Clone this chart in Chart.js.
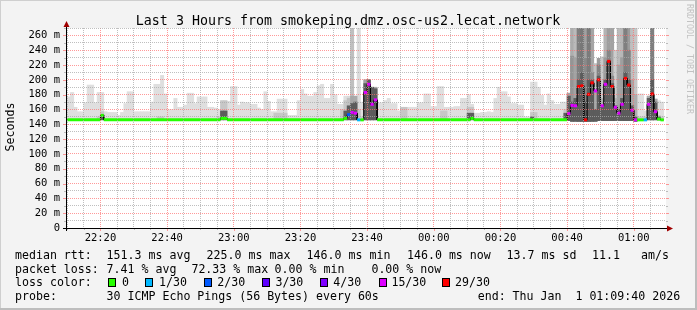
<!DOCTYPE html>
<html>
<head>
<meta charset="utf-8">
<title>smokeping - last 3 hours</title>
<script src="https://cdn.jsdelivr.net/npm/chart.js@4.4.1/dist/chart.umd.min.js"></script>
<style>
  html, body { margin: 0; padding: 0; background: #f3f3f3; }
  canvas { display: block; }
</style>
</head>
<body>
<canvas id="smokeChart" width="697" height="310"></canvas>
<script>
// One entry per minute, 22:10 .. 01:08 (step 60s). Values in ms.
const _ = null;

const median = [
  146,146,146,146,146,146,146,146,146,146,
  152,146,146,146,146,146,146,146,146,146,
  146,146,146,146,146,146,146,146,146,146,
  146,146,146,146,146,146,146,146,146,146,
  146,146,146,146,146,146,148,148,146,146,
  146,146,146,146,146,146,146,146,146,146,
  146,146,146,146,146,146,146,146,146,146,
  146,146,146,146,146,146,146,146,146,146,
  146,146,146,148,153,156,155,146,146,183,
  194,167,173,146,146,146,146,146,146,146,
  146,146,146,146,146,146,146,146,146,146,
  146,146,146,146,146,146,146,146,146,146,
  146,148,146,146,146,146,146,146,146,146,
  146,146,146,146,146,146,146,146,146,146,
  146,146,146,146,146,146,146,146,146,146,
  154.5,165.5,165,191,192,146,180.5,196,185,200,
  165,194,225,191,163,155,167,202,193,159,
  146,146,146,146,167,181,157,147,146
];

// lost pings out of 30
const loss = [
  0,0,0,0,0,0,0,0,0,0,  0,0,0,0,0,0,0,0,0,0,
  0,0,0,0,0,0,0,0,0,0,  0,0,0,0,0,0,0,0,0,0,
  0,0,0,0,0,0,0,0,0,0,  0,0,0,0,0,0,0,0,0,0,
  0,0,0,0,0,0,0,0,0,0,  0,0,0,0,0,0,0,0,0,0,
  0,0,0,0,2,9,8,1,0,10, 12,9,8,0,0,0,0,0,0,0,
  0,0,0,0,0,0,0,0,0,0,  0,0,0,0,0,0,0,0,0,0,
  0,0,0,0,0,0,0,0,0,0,  0,0,0,0,0,0,0,0,0,0,
  0,0,0,0,0,0,0,0,0,0,
  9,14,10,20,22,17,21,16,8,19,
  6,12,18,17,5,10,11,20,19,9,
  7,0,0,1,8,20,9,0,0
];

// smoke: lowest ping, highest ping, upper spread, inner core
const smokeLow = [
  146,146,146,146,146,146,146,146,146,146,  146,146,146,146,146,146,146,146,146,146,
  146,146,146,146,146,146,146,146,146,146,  146,146,146,146,146,146,146,146,146,146,
  146,146,146,146,146,146,146,146,146,146,  146,146,146,146,146,146,146,146,146,146,
  146,146,146,146,146,146,146,146,146,146,  146,146,146,146,146,146,146,146,146,146,
  146,146,146,146,146,146,146,146,146,146,  146,146,146,146,146,146,146,146,146,146,
  146,146,146,146,146,146,146,146,146,146,  146,146,146,146,146,146,146,146,146,146,
  146,146,146,146,146,146,146,146,146,146,  146,146,146,146,146,146,146,146,146,146,
  146,146,146,146,146,146,146,146,146,146,
  145,144,144,144,144,144,144,144,144,145,
  145,145,145,145,145,145,145,145,145,145,
  144,146,146,146,146,146,146,146,146
];

const smokeTop = [
  177,183,163,157,157,169,193,193,169,183,
  183,157,156,156,156,152,156,168,184,184,
  157,157,157,157,157,170,194,194,206,181,
  160,160,175,163,163,166,182,182,168,177,
  177,177,163,163,162,160,160,171,171,191,
  191,166,170,169,169,167,167,162,160,184,
  171,157,157,174,174,174,152,152,152,172,
  187,181,178,178,183,192,194,175,175,194,
  180,167,167,178,178,280,178,280,170,200,
  200,190,190,169,169,172,175,168,168,158,
  158,158,163,163,163,169,169,181,181,164,
  164,191,191,163,163,163,164,164,175,175,
  180,167,155,155,156,156,157,156,175,190,
  184,184,177,168,168,166,166,150,150,197,
  197,190,179,166,181,172,167,167,170,170,
  182,280,280,280,280,280,280,280,222,229,
  231,280,280,280,240,280,280,280,280,280,
  280,181,181,158,178,280,174,172,170
];

const smokeMid = [
  _,_,_,_,_,_,_,_,_,150,        157,_,_,_,_,_,_,_,_,_,
  _,_,_,_,_,_,_,150,150,_,      _,_,_,_,_,_,_,_,_,_,
  _,_,_,_,_,150,172,172,_,_,    _,_,_,_,_,_,_,_,_,_,
  _,_,155,155,155,155,_,_,_,_,  _,_,_,_,_,_,_,_,_,_,
  _,_,160,172,175,178,178,160,150,200,
  200,190,190,_,_,_,_,_,_,_,
  163,163,_,_,_,_,_,_,_,_,      _,_,158,158,_,_,_,_,_,_,
  163,163,_,_,_,_,_,_,_,_,      _,_,_,_,_,_,_,_,_,156,
  156,_,_,_,_,_,_,_,_,160,
  182,232,230,280,280,229,280,210,185,220,
  175,230,240,205,175,220,230,280,240,200,
  180,150,150,150,178,280,174,152,150
];

const smokeCore = [
  _,_,_,_,_,_,_,_,_,_,          153,_,_,_,_,_,_,_,_,_,
  _,_,_,_,_,_,_,_,_,_,          _,_,_,_,_,_,_,_,_,_,
  _,_,_,_,_,_,158,158,_,_,      _,_,_,_,_,_,_,_,_,_,
  _,_,_,_,_,_,_,_,_,_,          _,_,_,_,_,_,_,_,_,_,
  _,_,_,158,165,168,170,_,_,195,
  200,190,188,_,_,_,_,_,_,_,
  _,_,_,_,_,_,_,_,_,_,          _,_,_,_,_,_,_,_,_,_,
  155,155,_,_,_,_,_,_,_,_,      _,_,_,_,_,_,_,_,_,150,
  _,_,_,_,_,_,_,_,_,155,
  178,170,175,200,210,170,200,200,160,205,
  165,200,226,195,165,160,175,210,200,165,
  150,_,_,_,175,200,170,150,_
];

// loss colour classes (upper bound of lost pings per class)
const lossLevels = [0, 1, 2, 3, 4, 15, 29];
const lossLabels = ['0', '1/30', '2/30', '3/30', '4/30', '15/30', '29/30'];
const lossColors = ['#26ff00', '#00b8ff', '#0059ff', '#5e00ff', '#7e00ff', '#dd00ff', '#ff0000'];

// x tick labels (every 20 minutes, first at 22:20)
const timeLabels = ['22:20', '22:40', '23:00', '23:20', '23:40', '00:00', '00:20', '00:40', '01:00'];

const rttStats = ['151.3 ms avg', '225.0 ms max', '146.0 ms min', '146.0 ms now', '13.7 ms sd', '11.1', 'am/s'];
const lossStats = ['7.41 % avg', '72.33 % max', '0.00 % min', '0.00 % now'];

const TITLE = 'Last 3 Hours from smokeping.dmz.osc-us2.lecat.network';
const PROBE = '30 ICMP Echo Pings (56 Bytes) every 60s';
const END = 'end: Thu Jan  1 01:09:40 2026';

// ---------------------------------------------------------------
// graph starts 22:09:40, columns are aligned on whole minutes
const SPAN = 10800;
const FIRST_MIN = 20;
const MONO = '"DejaVu Sans Mono", monospace';
const MGRID = 'rgba(255,110,110,0.7)';
const GRID = 'rgba(170,170,170,0.75)';

function colStart(j) { return FIRST_MIN + 60 * j; }

function lossColor(n) {
    for (let i = 0; i < lossLevels.length; i++) {
        if (n <= lossLevels[i]) return lossColors[i];
    }
    return lossColors[lossColors.length - 1];
}

// more lost pings -> darker smoke
function smokeShade(n, step) {
    const g = Math.max(60, Math.round(223 - 3.6 * n) - step);
    return `rgb(${g},${g},${g})`;
}

function smokeBars(top) {
    const out = [];
    for (let j = 0; j < median.length; j++) {
        if (top[j] == null) continue;
        out.push({ x: colStart(j) + 30, y: [smokeLow[j], top[j]], j: j });
    }
    return out;
}

const medianPts = [];
median.forEach((m, j) => {
    medianPts.push({ x: colStart(j), y: m }, { x: colStart(j) + 60, y: m });
});

function xLabel(v) {
    const k = (v - 620) / 1200;
    return Number.isInteger(k) ? timeLabels[k] : '';
}

const barCommon = {
    type: 'bar',
    grouped: false,
    barPercentage: 1,
    categoryPercentage: 1,
    borderWidth: 0
};

// background, frame, axes and all the rrdtool style texts
const rrdFrame = {
    id: 'rrdFrame',
    beforeDraw(chart) {
        const { ctx, chartArea: a } = chart;
        ctx.save();
        ctx.fillStyle = '#f3f3f3';
        ctx.fillRect(0, 0, chart.width, chart.height);
        ctx.fillStyle = '#cfcfcf';
        ctx.fillRect(0, 0, chart.width, 1);
        ctx.fillRect(0, 0, 1, chart.height);
        ctx.fillStyle = '#bdbdbd';
        ctx.fillRect(0, chart.height - 2, chart.width, 2);
        ctx.fillRect(chart.width - 2, 0, 2, chart.height);
        ctx.fillStyle = '#ffffff';
        ctx.fillRect(a.left, a.top, a.right - a.left, a.bottom - a.top);
        ctx.restore();
    },
    afterDraw(chart) {
        const { ctx, chartArea: a } = chart;
        const xs = chart.scales.x, ys = chart.scales.y;
        ctx.save();

        // small tick marks outside the plot, like rrdtool does
        ctx.lineWidth = 1;
        xs.ticks.forEach(t => {
            const px = Math.round(xs.getPixelForValue(t.value)) + 0.5;
            ctx.strokeStyle = xLabel(t.value) ? MGRID : GRID;
            ctx.beginPath();
            ctx.moveTo(px, a.bottom);
            ctx.lineTo(px, a.bottom + (xLabel(t.value) ? 3 : 2));
            ctx.stroke();
        });
        ys.ticks.forEach(t => {
            if (t.value === 0) return;
            const py = Math.round(ys.getPixelForValue(t.value)) + 0.5;
            const major = t.value % 20 === 0;
            ctx.strokeStyle = major ? MGRID : GRID;
            ctx.beginPath();
            ctx.moveTo(a.left - (major ? 3 : 2), py);
            ctx.lineTo(a.left, py);
            ctx.moveTo(a.right, py);
            ctx.lineTo(a.right + (major ? 3 : 2), py);
            ctx.stroke();
        });

        // axes
        ctx.strokeStyle = '#000';
        ctx.beginPath();
        ctx.moveTo(a.left + 0.5, a.bottom + 3);
        ctx.lineTo(a.left + 0.5, a.top - 5);
        ctx.moveTo(a.left - 3, a.bottom + 0.5);
        ctx.lineTo(a.right + 4, a.bottom + 0.5);
        ctx.stroke();

        ctx.fillStyle = '#a00000';
        ctx.beginPath();
        ctx.moveTo(a.left - 2.5, a.top - 1);
        ctx.lineTo(a.left + 0.5, a.top - 7);
        ctx.lineTo(a.left + 3.5, a.top - 1);
        ctx.closePath();
        ctx.fill();
        ctx.beginPath();
        ctx.moveTo(a.right + 1, a.bottom - 2.5);
        ctx.lineTo(a.right + 7, a.bottom + 0.5);
        ctx.lineTo(a.right + 1, a.bottom + 3.5);
        ctx.closePath();
        ctx.fill();

        ctx.fillStyle = '#000';
        ctx.textBaseline = 'alphabetic';

        // title
        ctx.font = `13.3px ${MONO}`;
        ctx.textAlign = 'center';
        ctx.fillText(TITLE, 348, 25);

        // y axis title
        ctx.font = `11.6px ${MONO}`;
        ctx.save();
        ctx.translate(11, 127);
        ctx.rotate(-Math.PI / 2);
        ctx.textBaseline = 'middle';
        ctx.fillText('Seconds', 0, 0);
        ctx.restore();

        // legend
        ctx.textAlign = 'left';
        const rows = [259, 272.6, 286.2, 299.8];
        ctx.fillText('median rtt:', 15, rows[0]);
        const rttX = [106.6, 206.6, 306.6, 407, 506.6, 592, 641];
        rttStats.forEach((s, i) => ctx.fillText(s, rttX[i], rows[0]));

        ctx.fillText('packet loss:', 15, rows[1]);
        const lossX = [106.6, 191.4, 274.6, 371.4];
        lossStats.forEach((s, i) => ctx.fillText(s, lossX[i], rows[1]));

        ctx.fillText('loss color:', 15, rows[2]);
        const boxX = [108.4, 145.3, 203.6, 261.8, 320, 378.7, 442.2];
        const labX = [122, 159, 217.2, 275.4, 333.2, 391.4, 455];
        lossLabels.forEach((s, i) => {
            const bx = Math.round(boxX[i]);
            ctx.fillStyle = lossColors[i];
            ctx.fillRect(bx, 278, 8, 9);
            ctx.strokeStyle = '#000';
            ctx.strokeRect(bx + 0.5, 278.5, 7, 8);
            ctx.fillStyle = '#000';
            ctx.fillText(s, labX[i], rows[2]);
        });

        ctx.fillText('probe:', 15, rows[3]);
        ctx.fillText(PROBE, 106.6, rows[3]);
        ctx.fillText(END, 477.7, rows[3]);

        // watermark
        ctx.fillStyle = '#c2c2c2';
        ctx.font = `8.3px ${MONO}`;
        ctx.translate(689, 4);
        ctx.rotate(Math.PI / 2);
        ctx.textBaseline = 'middle';
        ctx.fillText('RRDTOOL / TOBI OETIKER', 0, 0);
        ctx.restore();
    }
};

new Chart(document.getElementById('smokeChart'), {
    type: 'line',
    data: {
        datasets: [
            {
                label: 'median',
                data: medianPts,
                order: 0,
                borderWidth: 3,
                borderColor: lossColors[0],
                borderCapStyle: 'butt',
                pointRadius: 0,
                tension: 0,
                segment: {
                    borderColor: ctx => {
                        const i = ctx.p0DataIndex;
                        const j = Math.floor(i / 2);
                        if (i % 2 === 0) return lossColor(loss[j]);
                        if (median[j] === median[j + 1] && lossColor(loss[j]) === lossColor(loss[j + 1])) {
                            return lossColor(loss[j]);
                        }
                        return 'rgba(0,0,0,0)';
                    }
                }
            },
            {
                label: 'median line',
                data: medianPts,
                order: 1,
                borderWidth: 1,
                borderColor: '#000',
                pointRadius: 0,
                tension: 0
            },
            Object.assign({}, barCommon, {
                label: 'core',
                data: smokeBars(smokeCore),
                order: 2,
                backgroundColor: '#5c5c5c'
            }),
            Object.assign({}, barCommon, {
                label: 'spread',
                data: smokeBars(smokeMid),
                order: 3,
                backgroundColor: ctx => smokeShade(ctx.raw ? loss[ctx.raw.j] : 0, 24)
            }),
            Object.assign({}, barCommon, {
                label: 'smoke',
                data: smokeBars(smokeTop),
                order: 4,
                backgroundColor: ctx => smokeShade(ctx.raw ? loss[ctx.raw.j] : 0, 0)
            })
        ]
    },
    options: {
        responsive: false,
        animation: false,
        devicePixelRatio: 1,
        layout: { padding: { top: 28, right: 31, bottom: 0, left: 0 } },
        plugins: {
            legend: { display: false },
            tooltip: { enabled: false },
            title: { display: false }
        },
        scales: {
            x: {
                type: 'linear',
                min: 0,
                max: SPAN,
                offset: false,
                afterFit: s => { s.height = 82; },
                afterBuildTicks: s => {
                    const t = [];
                    for (let v = FIRST_MIN; v < SPAN; v += 300) t.push({ value: v });
                    s.ticks = t;
                },
                ticks: {
                    autoSkip: false,
                    maxRotation: 0,
                    padding: 4,
                    color: '#000',
                    font: { family: MONO, size: 10.5 },
                    callback: v => xLabel(v)
                },
                grid: {
                    z: 1,
                    offset: false,
                    drawTicks: false,
                    lineWidth: 1,
                    color: ctx => xLabel(ctx.tick.value) ? MGRID : GRID
                },
                border: { display: false, dash: [1, 1] }
            },
            y: {
                min: 0,
                max: 270,
                afterFit: s => { s.width = 66; },
                afterBuildTicks: s => {
                    const t = [];
                    for (let v = 0; v <= 270; v += 10) t.push({ value: v });
                    s.ticks = t;
                },
                ticks: {
                    autoSkip: false,
                    padding: 6,
                    color: '#000',
                    font: { family: MONO, size: 10.5 },
                    callback: v => (v % 20 === 0 ? (v === 0 ? '0' : v + ' m') : '')
                },
                grid: {
                    z: 1,
                    drawTicks: false,
                    lineWidth: 1,
                    color: ctx => {
                        const v = ctx.tick.value;
                        if (v === 0) return 'rgba(0,0,0,0)';
                        return v % 20 === 0 ? MGRID : GRID;
                    }
                },
                border: { display: false, dash: [1, 1] }
            }
        }
    },
    plugins: [rrdFrame]
});
</script>
</body>
</html>
